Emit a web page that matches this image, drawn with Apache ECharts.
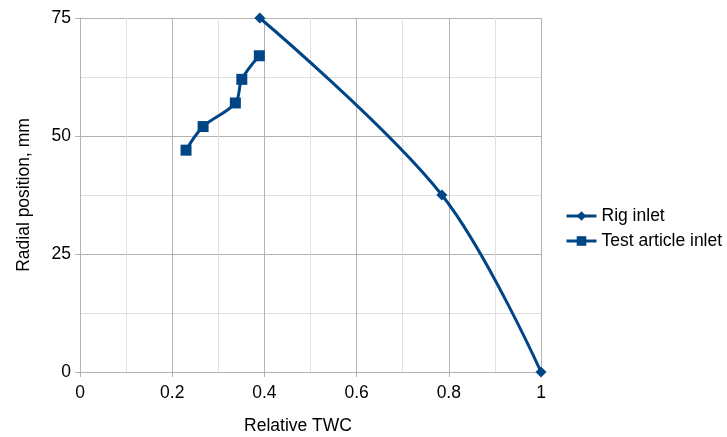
<!DOCTYPE html>
<html><head><meta charset="utf-8">
<script src="https://cdn.jsdelivr.net/npm/echarts@6/dist/echarts.min.js"></script>
<style>html,body{margin:0;padding:0;background:#fff}#c{width:727px;height:437px}</style>
</head><body><div id="c"></div>
<script>
var rigX = [0.39, 0.785, 1.0];
var rigY = [75, 37.5, 0];
var testX = [0.23, 0.267, 0.337, 0.351, 0.389];
var testY = [47, 52, 57, 62, 67];
var seriesNames = ['Rig inlet', 'Test article inlet'];
var xTitle = 'Relative TWC';
var yTitle = 'Radial position, mm';

function pairs(xs, ys){ return xs.map(function(x,i){return [x, ys[i]];}); }
var color = '#004586';
var font = 'Liberation Sans, Arial, sans-serif';
var fs = 17.5;
var chart = echarts.init(document.getElementById('c'));
chart.setOption({
  animation:false,
  textStyle:{fontFamily:font},
  grid:{left:80, right:186, top:18, bottom:65, outerBoundsMode:'none', containLabel:false},
  legend:{
    orient:'vertical', left:565, top:207, padding:0, itemGap:7, itemWidth:30, itemHeight:12,
    lineStyle:{width:3},
    textStyle:{fontSize:fs, color:'#000', fontFamily:font},
    data:seriesNames
  },
  xAxis:{
    type:'value', min:0, max:1, interval:0.2,
    name:xTitle, nameLocation:'middle', nameGap:45,
    nameTextStyle:{fontSize:fs, color:'#000', fontFamily:font, padding:[0,25,0,0]},
    axisLine:{show:true, lineStyle:{color:'#b3b3b3'}},
    axisTick:{show:true, length:5, lineStyle:{color:'#b3b3b3'}},
    axisLabel:{fontSize:fs, color:'#000', margin:12, fontFamily:font},
    splitLine:{show:true, lineStyle:{color:'#b3b3b3'}},
    minorTick:{show:false, splitNumber:2},
    minorSplitLine:{show:true, lineStyle:{color:'#e0e0e0'}}
  },
  yAxis:{
    type:'value', min:0, max:75, interval:25,
    name:yTitle, nameLocation:'middle', nameGap:47, nameRotate:90,
    nameTextStyle:{fontSize:fs, color:'#000', fontFamily:font},
    axisLine:{show:true, lineStyle:{color:'#b3b3b3'}},
    axisTick:{show:true, length:5, lineStyle:{color:'#b3b3b3'}},
    axisLabel:{fontSize:fs, color:'#000', margin:9, fontFamily:font},
    splitLine:{show:true, lineStyle:{color:'#b3b3b3'}},
    minorTick:{show:false, splitNumber:2},
    minorSplitLine:{show:true, lineStyle:{color:'#e0e0e0'}}
  },
  series:[
    {name:seriesNames[0], type:'line', data:pairs(rigX, rigY), smooth:0.35,
     symbol:'diamond', symbolSize:11, color:color,
     lineStyle:{width:3, color:color}, itemStyle:{color:color}},
    {name:seriesNames[1], type:'line', data:pairs(testX, testY), smooth:0.35,
     symbol:'rect', symbolSize:11, color:color,
     lineStyle:{width:3, color:color}, itemStyle:{color:color}}
  ]
});
</script></body></html>
